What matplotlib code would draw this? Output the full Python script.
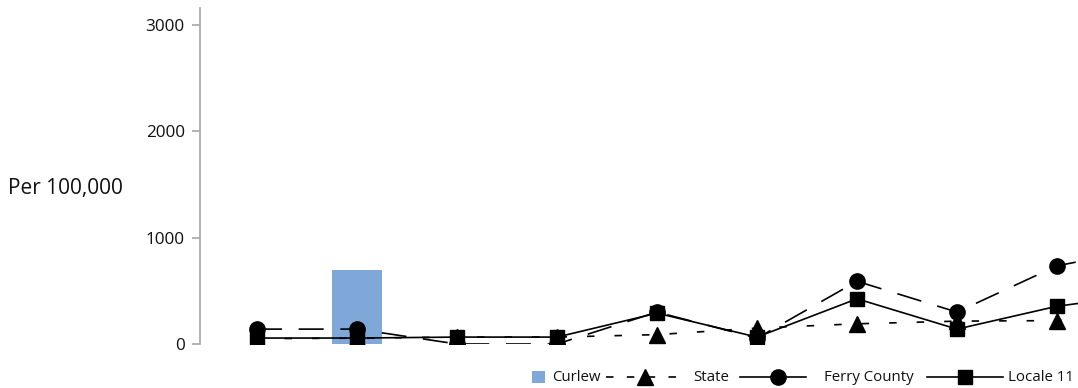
import matplotlib
matplotlib.use("Agg")
import matplotlib.pyplot as plt
from matplotlib.lines import Line2D
from matplotlib.patches import Rectangle

plt.rcParams['font.family'] = ['Open Sans', 'DejaVu Sans']

categories = list(range(10))
curlew = [0, 695, 0, 0, 0, 0, 0, 0, 0, 0]
state = [50, 55, 65, 65, 88, 150, 190, 215, 220, 350]
ferry = [140, 140, 0, 0, 300, 55, 590, 300, 735, 920]
locale = [56, 56, 65, 65, 290, 65, 425, 140, 355, 480]
yticks = [0, 1000, 2000, 3000]
ylabel = "Per 100,000"
legend_labels = ['Curlew', 'State', 'Ferry County', 'Locale 11']

W, H = 1078, 388
fig = plt.figure(figsize=(W / 100, H / 100), dpi=100)
left_px, right_px = 200, 1207
bot_px, top_px = 344, 8
ax = fig.add_axes([left_px / W, (H - bot_px) / H, (right_px - left_px) / W, (bot_px - top_px) / H])

bar_color = '#7FA7D8'
state_ls = (0, (4.5, 12))
ferry_ls = (0, (15, 10))
lw = 1.2

ax.bar(categories, curlew, width=0.5, color=bar_color, zorder=1)
ax.plot(categories, state, color='black', lw=lw, linestyle=state_ls,
        marker='^', markersize=11, zorder=3)
ax.plot(categories, ferry, color='black', lw=lw, linestyle=ferry_ls,
        marker='o', markersize=11, zorder=4)
ax.plot(categories, locale, color='black', lw=lw, linestyle='-',
        marker='s', markersize=10, zorder=5)

ax.set_xlim(-0.57, 9.5)
ax.set_ylim(0, 3160)
ax.set_yticks(yticks)
ax.set_yticklabels([str(t) for t in yticks], fontsize=12.3, color='#111111')
ax.set_xticks([])
for s in ['top', 'right', 'bottom']:
    ax.spines[s].set_visible(False)
ax.spines['left'].set_color('#a6a6a6')
ax.spines['left'].set_linewidth(1.2)
ax.tick_params(axis='y', length=6, color='#a6a6a6', width=1.2, pad=5)

fig.text(8 / W, 1 - 188 / H, ylabel, fontsize=15, va='center', ha='left', color='#111111')

# legend drawn manually in figure pixel coordinates
def fx(px):
    return px / W

def fy(py):
    return 1 - py / H

ly = 376.5
ty = 377.5
fig.add_artist(Rectangle((fx(532), fy(382.5)), 13 / W, 12 / H, transform=fig.transFigure,
                         facecolor=bar_color, edgecolor='none'))
fig.text(fx(552), fy(ty), legend_labels[0], fontsize=10.8, va='center', ha='left', color='#111111')

fig.add_artist(Line2D([fx(606), fx(684)], [fy(ly), fy(ly)], transform=fig.transFigure,
                      color='black', lw=lw, linestyle=(0, (4.5, 8))))
fig.add_artist(Line2D([fx(645)], [fy(ly)], transform=fig.transFigure, color='black',
                      marker='^', markersize=11, linestyle='none'))
fig.text(fx(693), fy(ty), legend_labels[1], fontsize=10.8, va='center', ha='left', color='#111111')

fig.add_artist(Line2D([fx(740), fx(806)], [fy(ly), fy(ly)], transform=fig.transFigure,
                      color='black', lw=lw, linestyle='-'))
fig.add_artist(Line2D([fx(778)], [fy(ly)], transform=fig.transFigure, color='black',
                      marker='o', markersize=11, linestyle='none'))
fig.text(fx(824), fy(ty), legend_labels[2], fontsize=10.8, va='center', ha='left', color='#111111')

fig.add_artist(Line2D([fx(927), fx(1003)], [fy(ly), fy(ly)], transform=fig.transFigure,
                      color='black', lw=lw, linestyle='-'))
fig.add_artist(Line2D([fx(965)], [fy(ly)], transform=fig.transFigure, color='black',
                      marker='s', markersize=10, linestyle='none'))
fig.text(fx(1008), fy(ty), legend_labels[3], fontsize=10.8, va='center', ha='left', color='#111111')

fig.savefig('out.png', dpi=100)
